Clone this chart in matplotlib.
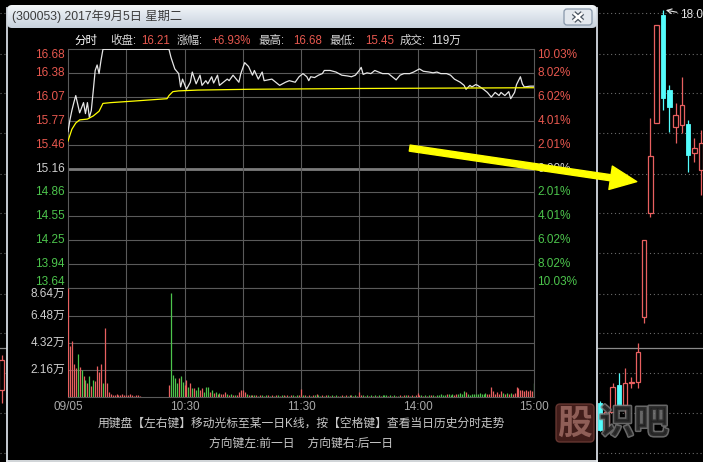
import matplotlib.pyplot as plt
import numpy as np
import matplotlib.patheffects as pe
from matplotlib.patches import FancyBboxPatch, Rectangle
from matplotlib.colors import LinearSegmentedColormap

plt.rcParams['font.family'] = ['Liberation Sans', 'Noto Sans CJK SC', 'DejaVu Sans']

W, H = 703, 462

# ---------------- 分时数据 (2017-09-05, 300053) ----------------
pre_close = 15.16
price_ticks = [13.64, 13.94, 14.25, 14.55, 14.86, 15.16, 15.46, 15.77, 16.07, 16.38, 16.68]
pct_labels = ['10.03%', '8.02%', '6.02%', '4.01%', '2.01%', '0.00%',
              '2.01%', '4.01%', '6.02%', '8.02%', '10.03%']

# 分时价格 (分钟, 价格)
t_price = [0, 1, 2, 3, 4, 5, 6, 8, 9, 10, 11, 12, 13, 14, 15, 16, 17, 18,
           52, 53, 55, 57, 58, 59, 61, 63, 64, 66, 68, 69, 71, 72, 74, 75, 77, 78,
           80, 82, 83, 85, 88, 89, 91, 93, 95, 96, 98, 100, 101, 105, 107, 109,
           112, 114, 117, 119, 121, 123, 124, 125, 127, 129, 131, 132, 135, 138,
           141, 144, 146, 148, 150, 151, 152, 154, 156, 158, 160, 162, 165, 167,
           169, 171, 173, 176, 178, 181, 183, 186, 188, 190, 192, 195, 197, 199,
           202, 204, 205, 207, 208, 210, 211, 214, 216, 218, 220, 222, 223, 225,
           227, 228, 230, 231, 233, 234, 235, 238, 240]
price = [15.63, 15.78, 15.90, 16.00, 16.09, 15.98, 15.87, 16.00, 15.86, 16.00, 15.81, 15.90,
         16.15, 16.41, 16.48, 16.37, 16.54, 16.68,
         16.68, 16.58, 16.43, 16.37, 16.20, 16.30, 16.17, 16.26, 16.39, 16.24, 16.35, 16.22,
         16.28, 16.24, 16.33, 16.25, 16.35, 16.22, 16.26, 16.30, 16.28, 16.35, 16.26, 16.37,
         16.51, 16.46, 16.35, 16.41, 16.30, 16.39, 16.28, 16.30, 16.26, 16.22,
         16.26, 16.28, 16.26, 16.33, 16.37, 16.33, 16.28, 16.33, 16.32, 16.35, 16.37, 16.41,
         16.41, 16.39, 16.35, 16.34, 16.33, 16.35, 16.41, 16.45, 16.36, 16.38, 16.37, 16.41,
         16.39, 16.37, 16.37, 16.33, 16.29, 16.35, 16.37, 16.37, 16.39, 16.43, 16.40, 16.39,
         16.38, 16.39, 16.37, 16.37, 16.35, 16.30,
         16.26, 16.22, 16.17, 16.22, 16.20, 16.23, 16.22, 16.17, 16.13, 16.07, 16.13, 16.09,
         16.13, 16.09, 16.14, 16.05, 16.13, 16.23, 16.33, 16.24, 16.20, 16.21, 16.21]

# 均价线
t_avg = [0, 2, 4, 6, 10, 13, 16, 18, 22, 34, 51, 52, 54, 57, 67, 93, 148, 240]
avg_price = [15.51, 15.66, 15.74, 15.78, 15.79, 15.83, 15.89, 15.99, 16.00, 16.02,
             16.05, 16.09, 16.14, 16.15, 16.16, 16.17, 16.18, 16.19]

# 成交量 (万股), 每行 10 分钟; 方向 r=涨 g=跌
volume = [
    8.64, 4.05, 4.45, 2.60, 2.30, 3.40, 2.40, 2.20, 1.65, 1.40,
    1.10, 1.70, 0.90, 1.40, 1.30, 2.50, 2.00, 2.60, 1.10, 5.50,
    1.10, 0.40, 0.25, 0.15, 0.20, 0.25, 0.15, 0.20, 0.30, 0.20,
    0.15, 0.20, 0.25, 0.15, 0.10, 0.20, 0.15, 0.10, 0.00, 0.00,
    0.00, 0.00, 0.00, 0.00, 0.00, 0.00, 0.00, 0.00, 0.00, 0.00,
    0.00, 0.00, 1.00, 8.30, 1.80, 1.50, 1.10, 1.50, 1.70, 1.20,
    1.00, 1.40, 0.80, 1.10, 0.75, 0.75, 0.60, 0.80, 0.55, 0.75,
    0.45, 0.80, 0.85, 0.45, 0.55, 0.35, 0.40, 0.30, 0.35, 0.25,
    0.30, 0.45, 0.25, 0.20, 0.30, 0.20, 0.15, 0.20, 0.45, 0.60,
    0.55, 0.40, 0.25, 0.15, 0.20, 0.15, 0.20, 0.15, 0.10, 0.15,
    0.20, 0.10, 0.15, 0.20, 0.10, 0.15, 0.10, 0.20, 0.15, 0.10,
    0.15, 0.20, 0.10, 0.15, 0.10, 0.20, 0.15, 0.10, 0.15, 0.20,
    0.64, 0.15, 0.20, 0.10, 0.15, 0.10, 0.20, 0.15, 0.25, 0.15,
    0.10, 0.15, 0.10, 0.20, 0.15, 0.10, 0.15, 0.10, 0.15, 0.10,
    0.10, 0.15, 0.10, 0.15, 0.10, 0.20, 0.15, 0.10, 0.15, 0.10,
    0.45, 0.20, 0.15, 0.10, 0.15, 0.10, 0.15, 0.10, 0.15, 0.10,
    0.15, 0.10, 0.15, 0.20, 0.15, 0.10, 0.15, 0.10, 0.15, 0.10,
    0.10, 0.15, 0.10, 0.15, 0.20, 0.15, 0.10, 0.15, 0.10, 0.15,
    0.37, 0.20, 0.15, 0.10, 0.15, 0.10, 0.15, 0.20, 0.15, 0.10,
    0.15, 0.20, 0.25, 0.15, 0.20, 0.25, 0.30, 0.20, 0.25, 0.20,
    0.30, 0.25, 0.35, 0.30, 0.50, 0.45, 0.30, 0.20, 0.25, 0.30,
    0.25, 0.30, 0.35, 0.30, 0.25, 0.35, 0.30, 0.25, 0.85, 0.50,
    0.30, 0.40, 0.30, 0.50, 0.35, 0.30, 0.35, 0.30, 0.35, 0.30,
    0.35, 0.85, 0.70, 0.60, 0.55, 0.50, 0.55, 0.50, 0.55, 0.50,
    1.17]
vol_dir = ("rrrrrgrgrg" "rgrgrrrrgr" "rrrrrrrrrr" "rrrrrrrrrr" "rrrrrrrrrr"
           "rrrggggrgg" "rrgrgrggrr" "gggrgrgrgr" "rrgrgrgrrr" "rrgrgrgrgr"
           "grgrgrgrgr" "grgrgrgrgr" "rgrgrgrgrg" "grgrgrgrgr" "grgrgrgrgr"
           "rrgrgrgrgr" "grgggrgrgr" "grgrgrgrgr" "rrgrgrgrgr" "gggggrgggr"
           "rggggrgggg" "ggggggrrrr" "rrrrgrgrgr" "rrrrrrrrrr" "g")

time_labels = ['09/05', '10:30', '11:30', '14:00', '15:00']
time_label_pos = [0, 60, 120, 180, 240]
vol_ticks = [2.16, 4.32, 6.48, 8.64]

# ---------------- 背景日K线 (弹窗后面) ----------------
k_idx = [-95, 0, 1, 2, 3, 4, 5, 6, 7, 8, 9, 10, 11, 12, 13, 14, 15, 16]
k_open = [13.30, 13.14, 12.80, 13.03, 13.36, 13.11, 13.39, 13.40, 14.21, 15.50, 16.62, 17.96, 17.03, 16.57, 16.59, 16.61, 16.25, 16.03]
k_high = [13.74, 13.16, 13.11, 13.39, 13.51, 13.57, 13.46, 13.89, 15.16, 16.68, 17.84, 18.02, 17.09, 16.87, 17.19, 16.66, 16.43, 16.53]
k_low = [13.14, 12.79, 12.80, 13.03, 13.08, 13.02, 13.33, 13.33, 14.13, 15.45, 16.62, 16.78, 16.51, 16.37, 16.49, 16.01, 16.13, 15.72]
k_close = [13.67, 12.80, 13.03, 13.34, 13.11, 13.39, 13.40, 13.77, 15.16, 16.21, 17.84, 16.93, 16.82, 16.72, 16.84, 16.22, 16.31, 16.37]
k_grid = [17.98, 17.48, 16.99, 16.49, 15.99, 15.50, 15.00, 14.50, 14.01, 13.51, 13.01, 12.52]
k_line = 13.82
day_0905 = 8  # 2017-09-05 在 k_idx 中的位置

RED = '#e8584f'
GREEN = '#4cc44c'
GRID = '#5a5a5a'
UP = '#e86060'
CYAN = '#54fcfc'

fig = plt.figure(figsize=(W / 100, H / 100), dpi=100, facecolor='black')


def box(x0, y0, x1, y1):
    return [x0 / W, 1 - y1 / H, (x1 - x0) / W, (y1 - y0) / H]


# ---- background daily K chart, full width ----
axk = fig.add_axes([0, 0, 1, 1], zorder=0)
axk.set_facecolor('black')
axk.set_xlim(-95.24, 16.35)
axk.set_ylim(12.407, 18.146)
axk.axis('off')
for y in k_grid:
    axk.axhline(y, color='#6a6a6a', lw=0.8, ls=(0, (1, 2.5)), zorder=1)
axk.axhline(k_line, color='#8a8a8a', lw=0.9, zorder=1)
bw = 0.7
for i, o, h, l, c in zip(k_idx, k_open, k_high, k_low, k_close):
    top, bot = max(o, c), min(o, c)
    if c >= o:
        axk.vlines(i, top, h, color=UP, lw=0.9, zorder=2)
        axk.vlines(i, l, bot, color=UP, lw=0.9, zorder=2)
        axk.add_patch(Rectangle((i - bw / 2, bot), bw, max(top - bot, 0.01),
                                facecolor='black', edgecolor=UP, lw=0.9, zorder=3))
    else:
        axk.vlines(i, l, h, color=CYAN, lw=0.9, zorder=2)
        axk.add_patch(Rectangle((i - bw / 2, bot), bw, top - bot,
                                facecolor=CYAN, edgecolor=CYAN, lw=0.6, zorder=3))
imax = int(np.argmax(k_high))
axk.annotate(f'{k_high[imax]:.1f}', xy=(k_idx[imax] + 0.45, k_high[imax]), xytext=(10, -3.5),
             textcoords='offset points', color='#e6e6e6', fontsize=8.5, va='center',
             ha='left', arrowprops=dict(arrowstyle='->', color='#e6e6e6', lw=0.8,
                                        shrinkA=0, shrinkB=0), annotation_clip=False)

# ---- dialog frame ----
bg = fig.add_axes([0, 0, 1, 1], zorder=1)
bg.axis('off')
bg.add_patch(Rectangle((7, 5), 590, 456, facecolor='black', edgecolor='none', zorder=0))
tb = FancyBboxPatch((7, 5), 590, 23, boxstyle='round,pad=0,rounding_size=5',
                    facecolor='none', edgecolor='none')
bg.add_patch(tb)
cm_title = LinearSegmentedColormap.from_list('t', ['#f3f6f9', '#dde4ec', '#c8d2dd'])
im = bg.imshow(np.linspace(0, 1, 40)[:, None], extent=[7, 597, 28, 5], cmap=cm_title,
               aspect='auto', zorder=1)
im.set_clip_path(tb)
bg.plot([7, 7], [8, 460.5], color='#d5dbe2', lw=1.3)
bg.plot([597, 597], [8, 460.5], color='#d5dbe2', lw=1.3)
bg.plot([7, 597], [460.5, 460.5], color='#e8ecf0', lw=1.3)
bg.add_patch(FancyBboxPatch((564, 9), 28, 16, boxstyle='round,pad=0,rounding_size=3',
                            facecolor='#e3e8ee', edgecolor='#8797aa', lw=0.9, zorder=2))
for c, w in [('#4a5460', 3.6), ('white', 1.8)]:
    bg.plot([573.5, 582.5], [13, 21], color=c, lw=w, solid_capstyle='butt', zorder=3)
    bg.plot([573.5, 582.5], [21, 13], color=c, lw=w, solid_capstyle='butt', zorder=3)
bg.text(12, 16.7, '(300053) 2017年9月5日 星期二', color='#3c3c3c', fontsize=8.8,
        va='center', ha='left')

# header row
header = [(74, '分时', '#ffffff'), (110, '收盘:', '#d4d4d4'), (141.5, '16.21', RED),
          (176.5, '涨幅:', '#d4d4d4'), (211.5, '+6.93%', RED), (258, '最高:', '#d4d4d4'),
          (293.5, '16.68', RED), (329, '最低:', '#d4d4d4'), (365, '15.45', RED),
          (400, '成交:', '#d4d4d4'), (431.5, '119万', '#e0e0e0')]
for x, s, c in header:
    bg.text(x, 40.7, s, color=c, fontsize=8.3, va='center', ha='left')

bg.text(301, 424, '用键盘【左右键】移动光标至某一日K线，按【空格键】查看当日历史分时走势',
        color='#c8c8c8', fontsize=8.5, ha='center', va='center')
bg.text(301, 444, '方向键左:前一日    方向键右:后一日', color='#c8c8c8', fontsize=8.5,
        ha='center', va='center')
bg.set_xlim(0, W)
bg.set_ylim(H, 0)

# ---- price pane ----
ax = fig.add_axes(box(68, 49.3, 534, 287.7), zorder=2)
ax.set_facecolor('black')
ax.set_xlim(0, 240)
ax.set_ylim(price_ticks[0], price_ticks[-1])
for y in price_ticks[1:-1]:
    if y == pre_close:
        ax.axhline(y, color='#7c7c7c', lw=2.0, zorder=1)
    else:
        ax.axhline(y, color=GRID, lw=0.8, zorder=1)
for m in range(30, 240, 30):
    ax.axvline(m, color=GRID, lw=0.8, zorder=1)
for s in ax.spines.values():
    s.set_color(GRID)
    s.set_linewidth(0.8)
ax.set_xticks([])
ax.set_yticks([])
ax.plot(t_price, price, color='#e6e6e6', lw=0.9, zorder=3)
ax.plot(t_avg, avg_price, color='#ffff00', lw=0.9, zorder=3)

n = len(price_ticks)
for i, (y, pl) in enumerate(zip(price_ticks, pct_labels)):
    c = RED if y > pre_close else (GREEN if y < pre_close else '#d0d0d0')
    va = 'top' if i == n - 1 else ('bottom' if i == 0 else 'center')
    ax.text(-3 / 466, y, f'{y:.2f}', transform=ax.get_yaxis_transform(), color=c,
            fontsize=8.5, ha='right', va=va)
    ax.text(1 + 3.5 / 466, y, pl, transform=ax.get_yaxis_transform(), color=c,
            fontsize=8.5, ha='left', va=va)

# ---- volume pane ----
axv = fig.add_axes(box(68, 288.3, 534, 397.3), zorder=2)
axv.set_facecolor('black')
axv.set_xlim(0, 240)
axv.set_ylim(0, vol_ticks[-1])
for y in vol_ticks[:-1]:
    axv.axhline(y, color=GRID, lw=0.8, zorder=1)
for m in range(30, 240, 30):
    axv.axvline(m, color=GRID, lw=0.8, zorder=1)
for s in axv.spines.values():
    s.set_color(GRID)
    s.set_linewidth(0.8)
axv.set_xticks([])
axv.set_yticks([])
vt = np.arange(len(volume))
vcol = [UP if d == 'r' else GREEN for d in vol_dir]
axv.vlines(vt, 0, volume, colors=vcol, lw=0.9, zorder=3)
for y in vol_ticks:
    axv.text(-3 / 466, y, f'{y:.2f}万', transform=axv.get_yaxis_transform(),
             color='#cfcfcf', fontsize=8.5, ha='right',
             va='top' if y == vol_ticks[-1] else 'center')
for m, lab in zip(time_label_pos, time_labels):
    axv.text(m, -0.086, lab, transform=axv.get_xaxis_transform(), color='#a8a8a8',
             fontsize=8.5, ha='center', va='center')

# ---- overlay: yellow arrow and watermark ----
top = fig.add_axes([0, 0, 1, 1], zorder=20)
top.axis('off')
top.set_xlim(0, W)
top.set_ylim(H, 0)
top.annotate('', xy=(k_idx[day_0905] - 1.17, 15.89), xycoords=axk.transData,
             xytext=(176, 15.42), textcoords=ax.transData,
             arrowprops=dict(arrowstyle='simple,head_length=19,head_width=17,tail_width=4.4',
                             mutation_scale=1, color='#ffff00', shrinkA=0, shrinkB=0),
             annotation_clip=False)
top.add_patch(FancyBboxPatch((556, 404), 38, 38, boxstyle='round,pad=0,rounding_size=4',
                             facecolor='#4a211d', edgecolor='#6b3a34', lw=1, alpha=0.9))
top.text(575, 423, '股', color='#8f5e57', fontsize=25, ha='center', va='center',
         family=['Noto Sans CJK SC'], fontweight='bold')
top.text(634, 423, '识吧', color='#222222', fontsize=25, ha='center', va='center',
         family=['Noto Sans CJK SC'], fontweight='bold', alpha=0.85,
         path_effects=[pe.withStroke(linewidth=2.2, foreground='#7a7a7a')])

fig.savefig('out.png', dpi=100, facecolor='black')
